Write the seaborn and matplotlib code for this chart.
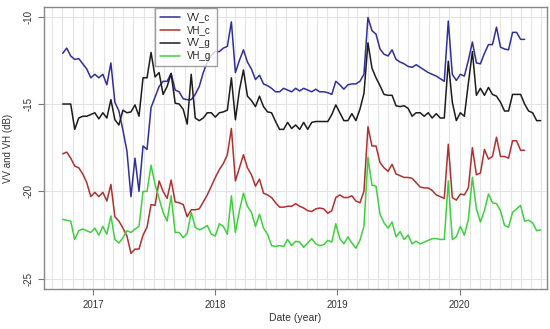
import pandas as pd
import matplotlib
matplotlib.use('Agg')
import matplotlib.pyplot as plt
import matplotlib.dates as mdates
import seaborn as sns

# Sentinel-1 acquisitions, every 12 days
start_date = '2016-10-02'
step = '12D'

series_names = ['VV_c', 'VH_c', 'VV_g', 'VH_g']

vv_c = [-12.1, -11.8, -12.25, -12.45, -12.4, -12.7, -13.0, -13.5, -13.3, -13.5,
        -13.3, -13.9, -12.65, -14.9, -15.4, -16.5, -17.7, -20.3, -18.1, -20.0,
        -17.4, -17.6, -15.2, -14.6, -14.0, -13.7, -13.7, -13.25, -14.2, -14.3,
        -14.7, -14.75, -14.75, -14.45, -14.0, -13.2, -12.6, -12.2, -12.0, -12.0,
        -11.8, -11.7, -10.3, -13.2, -12.5, -11.9, -12.6, -13.0, -13.6, -13.35,
        -13.85, -13.95, -14.1, -14.3, -14.3, -14.1, -14.2, -14.3, -14.1, -14.25,
        -14.1, -14.2, -14.3, -14.15, -14.3, -14.3, -14.35, -14.45, -13.7, -13.9,
        -14.15, -13.9, -13.85, -13.85, -13.7, -13.3, -10.05, -10.8, -11.0, -11.85,
        -12.15, -12.25, -11.9, -12.45, -12.6, -12.7, -12.85, -12.9, -12.75, -12.9,
        -13.05, -13.2, -13.3, -13.4, -13.55, -13.7, -10.25, -13.3, -13.65, -13.3,
        -13.4, -12.5, -11.45, -12.65, -12.7, -12.1, -11.6, -11.6, -10.6, -11.75,
        -11.85, -11.9, -10.9, -10.9, -11.3, -11.3]

vh_c = [-17.85, -17.75, -18.1, -18.55, -18.65, -19.0, -19.5, -20.3, -20.05, -20.3,
        -20.05, -20.55, -19.6, -21.45, -21.7, -22.1, -22.55, -23.55, -23.3, -23.3,
        -22.5, -22.05, -20.75, -20.8, -19.4, -20.0, -20.4, -19.35, -20.6, -20.65,
        -20.75, -21.45, -21.05, -21.05, -21.0, -20.6, -20.2, -19.7, -19.2, -18.75,
        -18.4, -17.9, -16.4, -19.4, -18.65, -17.9, -18.65, -19.05, -19.7, -19.3,
        -20.1, -20.2, -20.35, -20.65, -20.9, -20.9, -20.85, -20.85, -20.7, -20.85,
        -20.95, -21.1, -21.15, -21.0, -20.95, -21.0, -21.25, -21.1, -20.35, -20.2,
        -20.35, -20.35, -20.25, -20.55, -20.65, -20.0, -16.3, -17.4, -17.4, -18.35,
        -18.65, -18.85, -18.45, -19.0, -19.1, -19.2, -19.2, -19.25, -19.5, -19.75,
        -19.8, -19.8, -19.95, -20.2, -20.3, -20.4, -17.3, -20.35, -20.5, -20.15,
        -20.2, -19.8, -17.5, -19.05, -18.95, -17.6, -18.15, -18.0, -16.9, -18.0,
        -18.0, -18.1, -17.1, -17.1, -17.65, -17.65]

vv_g = [-15.0, -15.0, -15.0, -16.45, -15.8, -15.7, -15.7, -15.6, -15.5, -15.85,
        -15.5, -15.8, -14.75, -15.9, -16.2, -15.35, -15.5, -15.45, -15.05, -15.7,
        -13.5, -13.5, -12.05, -13.45, -13.2, -14.45, -14.0, -13.25, -14.95, -15.0,
        -15.3, -16.15, -13.3, -15.8, -15.95, -15.8, -15.5, -15.5, -15.75, -15.5,
        -15.45, -15.35, -13.5, -15.9, -14.2, -13.05, -14.55, -14.8, -15.15, -14.55,
        -15.15, -15.45, -15.5, -16.0, -16.45, -16.45, -16.05, -16.4, -16.2, -16.45,
        -16.05, -16.45, -16.05, -16.0, -16.0, -16.0, -16.0, -15.6, -15.05, -15.5,
        -15.95, -15.95, -15.55, -15.95, -15.3, -14.4, -11.5, -12.95, -13.5, -13.95,
        -14.45, -14.5, -14.5, -15.1, -15.15, -15.1, -15.25, -15.7, -15.5, -15.5,
        -15.7, -15.5, -15.8, -15.55, -15.8, -15.8, -12.55, -14.9, -15.95, -15.5,
        -15.7, -13.8, -12.0, -14.5, -14.1, -14.5, -14.05, -14.45, -14.55, -14.9,
        -15.4, -15.4, -14.45, -14.45, -14.45, -15.0, -15.4, -15.5, -15.95, -15.95]

vh_g = [-21.6, -21.65, -21.7, -22.75, -22.25, -22.15, -22.25, -22.35, -22.1, -22.5,
        -22.0, -22.45, -21.4, -22.75, -22.95, -22.65, -22.25, -22.35, -22.15, -22.0,
        -20.0, -20.0, -18.5, -19.6, -20.4, -21.2, -21.7, -20.25, -22.35, -22.35,
        -22.65, -22.4, -21.2, -22.05, -22.2, -22.1, -21.95, -22.45, -22.55, -21.85,
        -22.0, -22.45, -20.25, -22.35, -21.1, -20.1, -20.85, -21.2, -22.0, -21.3,
        -22.1, -22.45, -23.1, -23.15, -23.1, -23.15, -22.75, -23.1, -22.85, -22.9,
        -23.2, -22.95, -22.7, -23.0, -23.1, -23.05, -22.8, -22.9, -21.85, -22.7,
        -23.0, -22.6, -22.95, -23.25, -22.8, -22.0, -18.05, -19.65, -19.7, -21.3,
        -21.8, -22.1, -21.75, -22.6, -22.3, -22.75, -22.5, -23.0, -22.85, -23.0,
        -22.9, -22.8, -22.7, -22.7, -22.75, -22.75, -19.4, -22.75, -22.6, -22.0,
        -22.5, -21.6, -19.2, -21.0, -21.75, -21.1, -20.15, -20.65, -20.7, -21.1,
        -21.95, -22.05, -21.2, -21.0, -20.8, -21.7, -21.65, -21.8, -22.25, -22.2]

y_ticks = [-25, -20, -15, -10]

# long table for seaborn
frames = []
for name, vals in zip(series_names, [vv_c, vh_c, vv_g, vh_g]):
    d = pd.date_range(start_date, periods=len(vals), freq=step)
    frames.append(pd.DataFrame({'date': d, 'value': vals, 'series': name}))
data = pd.concat(frames, ignore_index=True)

sns.set_style('white')
plt.rcParams['font.family'] = ['Liberation Sans', 'DejaVu Sans']

fig = plt.figure(figsize=(5.5, 3.29), dpi=100)
ax = fig.add_axes([0.0805, 0.1207, 0.9135, 0.859])

palette = {'VV_c': '#2f2f9c', 'VH_c': '#b03030', 'VV_g': '#1c1c1c', 'VH_g': '#3fcf3f'}
sns.lineplot(data=data, x='date', y='value', hue='series', hue_order=series_names,
             palette=palette, linewidth=1.1, ax=ax)

ax.set_xlim(pd.Timestamp('2016-08-08'), pd.Timestamp('2020-09-17'))
ax.set_ylim(-25.6, -9.43)

ax.xaxis.set_major_locator(mdates.YearLocator())
ax.xaxis.set_major_formatter(mdates.DateFormatter('%Y'))
ax.xaxis.set_minor_locator(mdates.MonthLocator())
ax.set_yticks(y_ticks)
ax.set_yticklabels([str(v) for v in y_ticks], rotation=90, va='center')

ax.set_axisbelow(True)
ax.grid(which='both', axis='x', color='#e4e4e4', linewidth=0.8)
ax.grid(which='major', axis='y', color='#e4e4e4', linewidth=0.8)
ax.tick_params(which='major', direction='out', length=4, width=0.8, color='#777777',
               labelsize=7, labelcolor='#333333', left=True, bottom=True)
ax.tick_params(axis='x', pad=4)
ax.tick_params(axis='y', pad=4)
ax.tick_params(which='minor', length=0)

for sp in ax.spines.values():
    sp.set_color('#888888')
    sp.set_linewidth(1.0)

ax.set_xlabel('Date (year)', fontsize=7.5, color='#333333', labelpad=2)
ax.set_ylabel('VV and VH (dB)', fontsize=7, color='#333333', labelpad=7)

handles, labels = ax.get_legend_handles_labels()
ax.legend(handles, labels, loc='upper left', bbox_to_anchor=(0.221, 0.997),
          fontsize=7, frameon=True, fancybox=False, edgecolor='#888888',
          borderpad=0.5, handlelength=2.0, labelspacing=0.3, handletextpad=0.8,
          borderaxespad=0)

fig.savefig('out.png', dpi=100)
